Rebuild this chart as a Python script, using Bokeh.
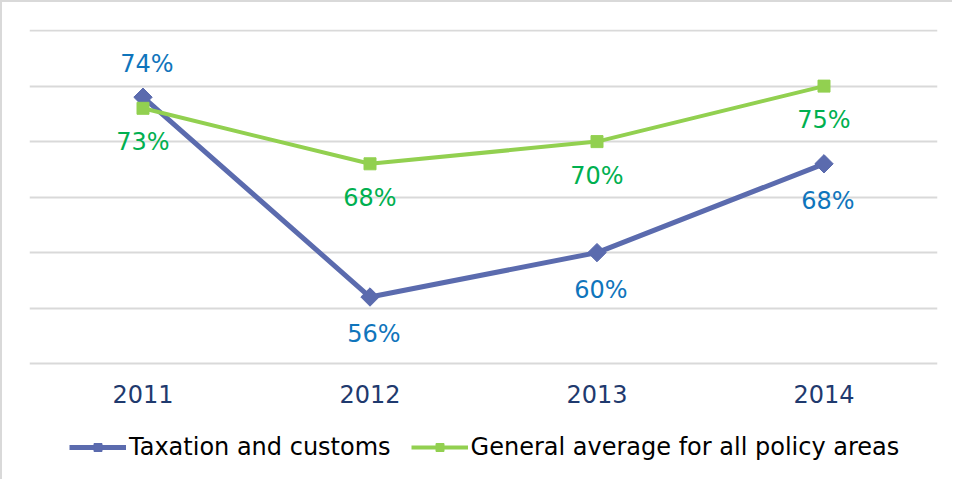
import math
from bokeh.plotting import figure
from bokeh.models import ColumnDataSource, Legend, LegendItem, Range1d, FixedTicker
from bokeh.core.properties import value
from bokeh.embed import file_html
from bokeh.resources import INLINE

# ---- data ----
years = ["2011", "2012", "2013", "2014"]
taxation = [74, 56, 60, 68]
general = [73, 68, 70, 75]
series_names = ["Taxation and customs", "General average for all policy areas"]
grid_ticks = [55, 60, 65, 70, 75, 80]

# label placement (style)
tax_label_side = ["above", "below", "below", "below"]
gen_label_side = ["below", "below", "below", "below"]

FONT = "DejaVu Sans"
BLUE = "#5B6BAE"
GREEN = "#92D050"
BLUE_TXT = "#0F75BC"
GREEN_TXT = "#00B050"
GRID = "#D9D9D9"

Y_MIN, Y_MAX = 50, 80
# frame extends below the axis to host the legend
p = figure(width=952, height=479, x_range=years, y_range=Range1d(39.38, 80.1),
           output_backend="svg", toolbar_location=None,
           min_border_left=27, min_border_right=17, min_border_top=27,
           min_border_bottom=0)
p.styles = {"border-top": "2px solid #D9D9D9", "border-left": "2px solid #D9D9D9"}
p.outline_line_color = None
p.background_fill_color = "white"
p.border_fill_color = "white"

p.yaxis.visible = False
p.ygrid.ticker = FixedTicker(ticks=grid_ticks)
p.ygrid.grid_line_color = GRID
p.ygrid.grid_line_width = 2
p.xgrid.grid_line_color = None

p.xaxis.fixed_location = Y_MIN
p.xaxis.axis_line_color = GRID
p.xaxis.axis_line_width = 2
p.xaxis.major_tick_line_color = None
p.xaxis.minor_tick_line_color = None
p.xaxis.major_label_text_font = FONT
p.xaxis.major_label_text_font_size = "24px"
p.xaxis.major_label_text_color = "#1F3A6E"
p.xaxis.major_label_standoff = 15

src_t = ColumnDataSource(dict(x=years, y=taxation,
                              lab=[f"{v}%" for v in taxation],
                              off=[-33 if s == "above" else 37 for s in tax_label_side]))
src_g = ColumnDataSource(dict(x=years, y=general,
                              lab=[f"{v}%" for v in general],
                              off=[-33 if s == "above" else 34 for s in gen_label_side]))

lt = p.line("x", "y", source=src_t, line_color=BLUE, line_width=5)
mt = p.scatter("x", "y", source=src_t, marker="square", size=13, angle=math.pi / 4,
               fill_color=BLUE, line_color=BLUE)
lg = p.line("x", "y", source=src_g, line_color=GREEN, line_width=4)
mg = p.scatter("x", "y", source=src_g, marker="square", size=12,
               fill_color=GREEN, line_color=GREEN)

p.text("x", "y", text="lab", source=src_t, y_offset="off", x_offset=4,
       text_font=value(FONT), text_font_size="24px", text_color=BLUE_TXT,
       text_align="center", text_baseline="middle")
p.text("x", "y", text="lab", source=src_g, y_offset="off",
       text_font=value(FONT), text_font_size="24px", text_color=GREEN_TXT,
       text_align="center", text_baseline="middle")

legend = Legend(items=[LegendItem(label=series_names[0], renderers=[lt, mt]),
                       LegendItem(label=series_names[1], renderers=[lg, mg])],
                orientation="horizontal", location=(40, 20),
                label_text_font=FONT, label_text_font_size="24px",
                label_text_color="#000000", glyph_width=57, glyph_height=20,
                label_standoff=3, spacing=20, padding=6, margin=0,
                border_line_color=None, background_fill_alpha=0)
p.add_layout(legend, "center")

open("out.html", "w").write(file_html(p, INLINE))
